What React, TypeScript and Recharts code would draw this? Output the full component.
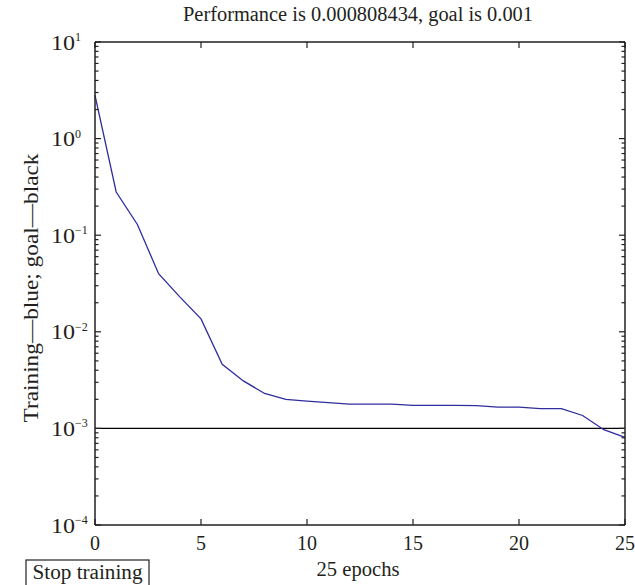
import React from 'react';
import { LineChart, Line, XAxis, YAxis, ReferenceLine } from 'recharts';

// training performance per epoch
const epochs = [0, 1, 2, 3, 4, 5, 6, 7, 8, 9, 10, 11, 12, 13, 14, 15, 16, 17, 18, 19, 20, 21, 22, 23, 24, 25];
const perf = [
  2.8, 0.28, 0.129, 0.040, 0.023, 0.0136, 0.0046, 0.0031, 0.0023, 0.0020,
  0.00192, 0.00185, 0.00178, 0.00178, 0.00178, 0.00173, 0.00173, 0.00173, 0.00172, 0.00166,
  0.00166, 0.0016, 0.0016, 0.00136, 0.00097, 0.000808434,
];
const goal = 0.001;

const xTicks = [0, 5, 10, 15, 20, 25];
const yMajor = [0.0001, 0.001, 0.01, 0.1, 1, 10];
const decades = [0.0001, 0.001, 0.01, 0.1, 1];
const minorMult = [2, 3, 4, 5, 6, 7, 8, 9];
const yMinor = decades.flatMap((d) => minorMult.map((m) => m * d));
const yTicks = [...yMajor, ...yMinor];

const data = epochs.map((e, i) => ({ epoch: e, perf: perf[i] }));

const FONT = '"Liberation Serif", "DejaVu Serif", serif';
const INK = '#231f20';

const isMajor = (v: number) => Math.abs(Math.log10(v) - Math.round(Math.log10(v))) < 1e-6;

const LeftTick = (props: any) => {
  const { x, y, payload } = props;
  const v = payload.value;
  const major = isMajor(v);
  const e = Math.round(Math.log10(v));
  const exp = e < 0 ? '\u2212' + -e : String(e);
  return (
    <g>
      <line x1={x} x2={x + (major ? 6 : 3.5)} y1={y} y2={y} stroke={INK} strokeWidth={1.2} />
      {major && (
        <g fill={INK} fontFamily={FONT}>
          <text x={x - 20} y={y + 7.5} textAnchor="end" fontSize={20} textLength={24} lengthAdjust="spacingAndGlyphs">
            10
          </text>
          <text x={x - 20} y={y - 1} textAnchor="start" fontSize={12}>
            {exp}
          </text>
        </g>
      )}
    </g>
  );
};

const RightTick = (props: any) => {
  const { x, y, payload } = props;
  const major = isMajor(payload.value);
  return <line x1={x} x2={x - (major ? 6 : 3.5)} y1={y} y2={y} stroke={INK} strokeWidth={1.2} />;
};

const BottomTick = (props: any) => {
  const { x, y, payload } = props;
  return (
    <g>
      <line x1={x} x2={x} y1={y} y2={y - 6} stroke={INK} strokeWidth={1.2} />
      <text x={x} y={y + 25} textAnchor="middle" fill={INK} fontFamily={FONT} fontSize={20}>
        {payload.value}
      </text>
    </g>
  );
};

const TopTick = (props: any) => {
  const { x, y } = props;
  return <line x1={x} x2={x} y1={y} y2={y + 6} stroke={INK} strokeWidth={1.2} />;
};

const axisLine = { stroke: INK, strokeWidth: 1.5 };

export default function App() {
  return (
    <div style={{ position: 'absolute', left: 0, top: 0, width: 635, height: 585, background: '#fff' }}>
      <LineChart width={635} height={585} data={data} margin={{ top: 2, right: 2, bottom: 2, left: 2 }}>
        <XAxis xAxisId="b" dataKey="epoch" type="number" domain={[0, 25]} ticks={xTicks} interval={0}
          height={58} tickSize={0} tickMargin={0} tickLine={false} axisLine={axisLine}
          tick={(p: any) => <BottomTick {...p} />} />
        <XAxis xAxisId="t" orientation="top" dataKey="epoch" type="number" domain={[0, 25]} ticks={xTicks} interval={0}
          height={40} tickSize={0} tickMargin={0} tickLine={false} axisLine={axisLine}
          tick={(p: any) => <TopTick {...p} />} />
        <YAxis yAxisId="l" scale="log" type="number" domain={[0.0001, 10]} allowDataOverflow ticks={yTicks} interval={0}
          width={93} tickSize={0} tickMargin={0} tickLine={false} axisLine={axisLine}
          tick={(p: any) => <LeftTick {...p} />} />
        <YAxis yAxisId="r" orientation="right" scale="log" type="number" domain={[0.0001, 10]} allowDataOverflow ticks={yTicks} interval={0}
          width={8} tickSize={0} tickMargin={0} tickLine={false} axisLine={axisLine}
          tick={(p: any) => <RightTick {...p} />} />
        <ReferenceLine xAxisId="b" yAxisId="l" y={goal} stroke="#000" strokeWidth={1.1} />
        <Line xAxisId="b" yAxisId="l" dataKey="perf" type="linear" stroke="#2e2c9e" strokeWidth={1.3}
          dot={false} isAnimationActive={false} />
      </LineChart>
      <svg width={635} height={585} style={{ position: 'absolute', left: 0, top: 0, pointerEvents: 'none' }}>
        <text x={358} y={21} textAnchor="middle" fill={INK} fontFamily={FONT} fontSize={20}
          textLength={350} lengthAdjust="spacingAndGlyphs">
          Performance is 0.000808434, goal is 0.001
        </text>
        <text x={358} y={576} textAnchor="middle" fill={INK} fontFamily={FONT} fontSize={20}
          textLength={83} lengthAdjust="spacingAndGlyphs">
          25 epochs
        </text>
        <text transform="translate(38 288) rotate(-90)" textAnchor="middle" fill={INK} fontFamily={FONT} fontSize={20}
          textLength={269} lengthAdjust="spacingAndGlyphs">
          Training—blue; goal—black
        </text>
        <rect x={26} y={560} width={123} height={26} fill="#fff" stroke={INK} strokeWidth={1.2} />
        <text x={87.5} y={579} textAnchor="middle" fill={INK} fontFamily={FONT} fontSize={20}
          textLength={110} lengthAdjust="spacingAndGlyphs">
          Stop training
        </text>
      </svg>
    </div>
  );
}
